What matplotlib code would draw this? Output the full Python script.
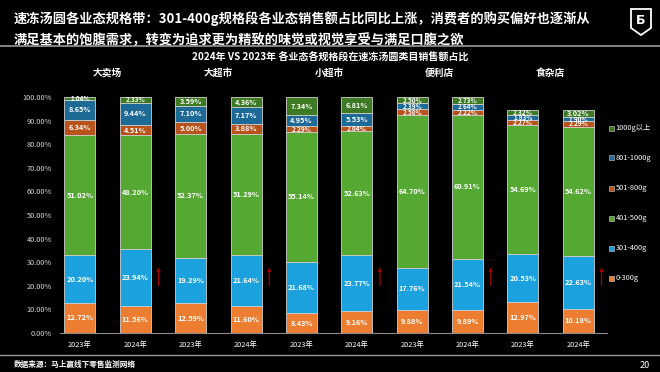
import matplotlib
matplotlib.use("Agg")
import matplotlib.pyplot as plt
from matplotlib.patches import Polygon
import numpy as np

plt.rcParams['font.family'] = ['Noto Sans CJK SC', 'DejaVu Sans']

# 数据：各业态 2023/2024 各规格段占比 (%)
channels = ['大卖场', '大超市', '小超市', '便利店', '食杂店']
years = ['2023年', '2024年'] * 5
segments = ['0-300g', '301-400g', '401-500g', '501-800g', '801-1000g', '1000g以上']
g0_300 = [12.72, 11.56, 12.59, 11.60, 8.43, 9.16, 9.88, 9.89, 12.97, 10.18]
g301_400 = [20.20, 23.94, 19.29, 21.64, 21.68, 23.77, 17.76, 21.54, 20.53, 22.63]
g401_500 = [51.02, 48.20, 52.37, 51.29, 55.14, 52.63, 64.70, 60.91, 54.69, 54.62]
g501_800 = [6.34, 4.51, 5.00, 3.88, 2.29, 2.04, 2.58, 2.22, 2.27, 2.29]
g801_1000 = [8.65, 9.44, 7.10, 7.17, 4.95, 5.53, 2.39, 2.64, 1.83, 1.90]
g1000 = [1.04, 2.33, 3.59, 4.36, 7.34, 6.81, 2.50, 2.73, 2.32, 3.02]
colors = ['#ED7D31', '#1BA1DE', '#55A832', '#B8531C', '#1D6A96', '#3D7A23']

series = [g0_300, g301_400, g401_500, g501_800, g801_1000, g1000]

fig = plt.figure(figsize=(6.6, 3.72), dpi=100, facecolor='black')
ax = fig.add_axes([60/660, 1-333/372, (607-60)/660, (333-97)/372])
ax.set_facecolor('black')

x = np.arange(len(years))
bottom = np.zeros(len(years))
for vals, col, name in zip(series, colors, segments):
    v = np.array(vals) / 100
    ax.bar(x, v, 0.56, bottom=bottom, color=col, edgecolor='#cfcfcf', linewidth=0.6, label=name)
    for xi, b, h, raw in zip(x, bottom, v, vals):
        # 很窄的段用小一点的字
        fs = 5.3 if raw > 3 else 4.6
        ax.text(xi, b + h/2, '%.2f%%' % raw, ha='center', va='center', color='white',
                fontsize=fs, fontweight='bold')
    bottom += v

# 上升箭头
for i in [1, 3, 5, 7, 9]:
    ax.annotate('', xy=(i + 0.42, 0.29), xytext=(i + 0.42, 0.19),
                arrowprops=dict(arrowstyle='-|>', color='#A00000', lw=0.9, mutation_scale=5))

ax.set_xlim(-0.36, 9.52)
ax.set_ylim(0, 1.0)
ax.set_xticks(x)
ax.set_xticklabels(years, color='white', fontsize=5.3)
ax.set_yticks(np.arange(0, 1.01, 0.1))
ax.set_yticklabels(['%.2f%%' % (t*100) for t in np.arange(0, 1.01, 0.1)], color='#d9d9d9', fontsize=5.3)
ax.tick_params(length=0, pad=6)
for s in ['top', 'right', 'left']:
    ax.spines[s].set_visible(False)
ax.spines['bottom'].set_color('#8c8c8c')
ax.spines['bottom'].set_linewidth(0.8)

# 图例
leg_y = [278, 248, 218, 188, 158, 128]
for col, name, yy in zip(colors, segments, leg_y):
    fig.patches.append(plt.Rectangle((609/660, 1-(yy+2.5)/372), 5/660, 5/372, transform=fig.transFigure,
                                     facecolor=col, edgecolor='#cfcfcf', linewidth=0.4))
    fig.text(615.5/660, 1-yy/372, name, color='white', fontsize=5.3, va='center')

# 业态标签
for k, ch in enumerate(channels):
    xc = ax.transData.transform((2*k + 0.5, 0))[0]
    fig.text(xc/660, 1-73/372, ch, color='white', fontsize=7, fontweight='bold', ha='center', va='center')

fig.text(0.5, 1-57/372, '2024年 VS 2023年 各业态各规格段在速冻汤圆类目销售额占比', color='white',
         fontsize=7.2, fontweight='bold', ha='center', va='center')

fig.text(14/660, 1-19/372, '速冻汤圆各业态规格带：301-400g规格段各业态销售额占比同比上涨，消费者的购买偏好也逐渐从',
         color='white', fontsize=9.5, fontweight='bold', va='center')
fig.text(14/660, 1-40/372, '满足基本的饱腹需求，转变为追求更为精致的味觉或视觉享受与满足口腹之欲',
         color='white', fontsize=9.5, fontweight='bold', va='center')

# 分隔线
fig.add_artist(plt.Line2D([0, 1], [1-46/372, 1-46/372], color='#9a9a9a', lw=1.2, transform=fig.transFigure))
fig.add_artist(plt.Line2D([0, 1], [1-355/372, 1-355/372], color='#9a9a9a', lw=1.0, transform=fig.transFigure))

# logo
shield = np.array([[631, 9], [651, 9], [651, 28], [641, 35], [631, 28]], dtype=float)
shield[:, 0] /= 660
shield[:, 1] = 1 - shield[:, 1] / 372
fig.patches.append(Polygon(shield, closed=True, fill=False, edgecolor='white', linewidth=1.3,
                           transform=fig.transFigure))
fig.text(641/660, 1-20/372, 'Ƃ', color='white', fontsize=9, fontweight='bold', ha='center', va='center',
         family='DejaVu Sans')

fig.text(14/660, 1-364/372, '数据来源：马上赢线下零售监测网络', color='white', fontsize=5.5,
         fontweight='bold', va='center')
fig.text(650/660, 1-365/372, '20', color='white', fontsize=6.5, ha='right', va='center')

fig.savefig('out.png', dpi=100, facecolor='black')
